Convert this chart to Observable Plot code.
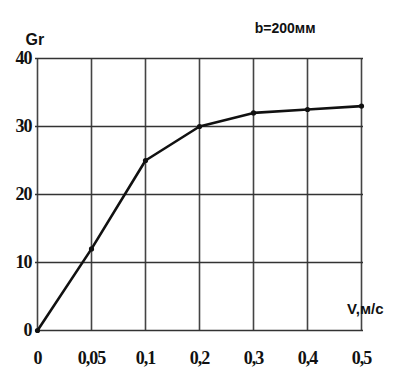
<!DOCTYPE html>
<html><head><meta charset="utf-8">
<script src="https://cdn.jsdelivr.net/npm/d3@7"></script>
<script src="https://cdn.jsdelivr.net/npm/@observablehq/plot@0.6"></script>
<style>
body{margin:0;background:#fff}
g[aria-label="x-axis tick label"] text, g[aria-label="y-axis tick label"] text,
g[aria-label="x-axis tick label"], g[aria-label="y-axis tick label"]{font-family:'Liberation Serif','DejaVu Serif',serif !important;font-weight:bold;letter-spacing:-1px}
</style>
</head><body><div id="chart"></div>
<script>
const vLabels = ["0","0,05","0,1","0,2","0,3","0,4","0,5"];
const grValues = [0, 12, 25, 30, 32, 32.5, 33];
const yTicks = [0, 10, 20, 30, 40];
const yLabel = "Gr";
const xLabel = "V,м/с";
const note = "b=200мм";

const data = vLabels.map((v, i) => ({v, gr: grValues[i]}));
const serif = "Liberation Serif";
const sansLab = {fontFamily: "Liberation Sans Narrow, Liberation Sans, sans-serif", fontWeight: "bold", fontSize: 16, fill: "#111"};

const chart = Plot.plot({
  width: 404, height: 371,
  marginLeft: 35, marginRight: 41, marginTop: 58, marginBottom: 41,
  style: {fontWeight: "bold", fontSize: "16px", color: "#111", background: "#fff"},
  x: {type: "point", domain: vLabels, padding: 0, axis: null, label: null},
  y: {domain: [0, 40], axis: null, label: null},
  marks: [
    Plot.ruleX(vLabels, {x: d => d, y1: 0, y2: 40, stroke: "#444", strokeWidth: 1.6}),
    Plot.ruleY(yTicks, {y: d => d, stroke: "#333", strokeWidth: 1.6}),
    Plot.axisY(yTicks, {label: null, tickSize: 0, tickPadding: 4, fontSize: 18, fontWeight: "bold", fontFamily: serif, fill: "#111"}),
    Plot.axisX(vLabels, {label: null, tickSize: 0, tickPadding: 21, fontSize: 18, fontWeight: "bold", fontFamily: serif, fill: "#111"}),
    Plot.line(data, {x: "v", y: "gr", stroke: "#111", strokeWidth: 2.6}),
    Plot.dot(data, {x: "v", y: "gr", r: 2.6, fill: "#111"}),
    Plot.text([yLabel], {frameAnchor: "top-left", text: d => d, dx: -10, dy: -25, ...sansLab}),
    Plot.text([note], {frameAnchor: "top-right", text: d => d, dx: -48, dy: -35, ...sansLab, fontSize: 14}),
    Plot.text([xLabel], {frameAnchor: "bottom-right", text: d => d, dx: 20, dy: -17, ...sansLab, fontSize: 15})
  ]
});
document.getElementById("chart").append(chart);
</script>
</body></html>
